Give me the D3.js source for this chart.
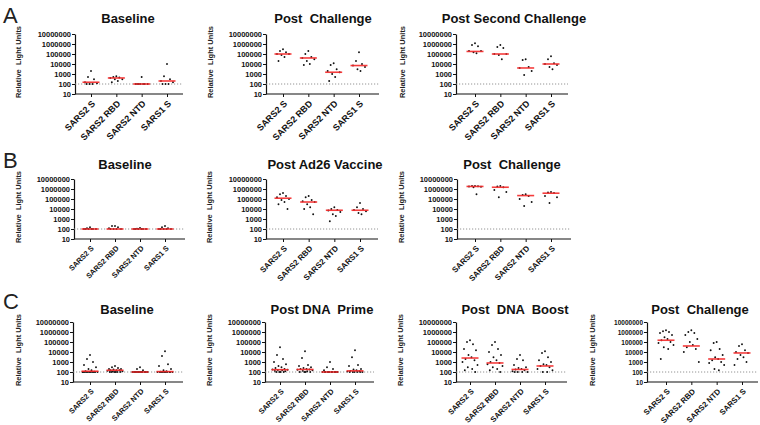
<!DOCTYPE html>
<html>
<head>
<meta charset="utf-8">
<script src="https://cdn.jsdelivr.net/npm/d3@7"></script>
<style>
  html, body { margin: 0; padding: 0; background: #fff; }
  svg { display: block; }
  text { font-family: "Liberation Sans", Arial, sans-serif; }
</style>
</head>
<body>
<svg id="chart" width="760" height="425"></svg>
<script>
// ---------------- DATA ----------------
const categories = ["SARS2 S", "SARS2 RBD", "SARS2 NTD", "SARS1 S"];
const yTickValues = [10, 100, 1000, 10000, 100000, 1000000, 10000000];
const yTickLabels = ["10", "100", "1000", "10000", "100000", "1000000", "10000000"];
const limitOfDetection = 100;
const rowLetters = ["A", "B", "C"];

const titles = {
  a1: "Baseline", a2: "Post  Challenge", a3: "Post Second Challenge",
  b1: "Baseline", b2: "Post Ad26 Vaccine", b3: "Post  Challenge",
  c1: "Baseline", c2: "Post DNA  Prime", c3: "Post  DNA  Boost", c4: "Post  Challenge"
};
const yLabel = "Relative  Light Units";

// Row A
const a1Values = [
  [2000, 500, 300, 150, 120, 100, 100, 100],
  [600, 500, 450, 400, 300, 300, 200, 150],
  [500, 100, 100, 100, 100, 100, 100, 100],
  [10000, 600, 300, 200, 150, 100, 100, 100]
];
const a1Medians = [150, 400, 100, 200];

const a2Values = [
  [300000, 200000, 150000, 100000, 100000, 80000, 50000, 20000],
  [200000, 100000, 50000, 40000, 30000, 20000, 10000, 8000],
  [12000, 8000, 3000, 2000, 1500, 1000, 500, 200],
  [150000, 20000, 10000, 7000, 5000, 3000, 2000]
];
const a2Medians = [100000, 40000, 1500, 7000];

const a3Values = [
  [1200000, 800000, 600000, 200000, 200000, 150000, 120000],
  [800000, 500000, 400000, 100000, 100000, 80000, 30000],
  [30000, 25000, 5000, 4000, 2000, 800],
  [60000, 30000, 12000, 10000, 8000, 5000, 3000]
];
const a3Medians = [180000, 100000, 4000, 10000];

// Row B
const b1Values = [
  [150, 120, 100, 100, 100, 100, 100, 100],
  [200, 200, 150, 120, 100, 100, 100, 100],
  [130, 110, 100, 100, 100, 100, 100, 100],
  [200, 150, 120, 100, 100, 100, 100, 100]
];
const b1Medians = [100, 100, 100, 100];

const b2Values = [
  [400000, 300000, 200000, 150000, 100000, 80000, 50000, 30000, 10000],
  [200000, 150000, 80000, 60000, 50000, 30000, 15000, 10000, 3000],
  [15000, 10000, 8000, 7000, 5000, 3000, 2000, 600],
  [40000, 15000, 10000, 8000, 6000, 4000, 3000]
];
const b2Medians = [120000, 50000, 7500, 7500];

const b3Values = [
  [2000000, 2000000, 1900000, 1800000, 1700000, 1500000, 300000],
  [2000000, 1800000, 1500000, 800000, 500000, 150000],
  [300000, 250000, 200000, 100000, 50000, 20000],
  [500000, 450000, 400000, 200000, 150000, 40000]
];
const b3Medians = [1800000, 1500000, 220000, 380000];

// Row C
const c1Values = [
  [5000, 2000, 1000, 500, 300, 200, 150, 120, 110, 100, 100, 100, 100, 100, 100, 100, 100, 100, 100, 100],
  [400, 300, 250, 200, 200, 180, 150, 150, 150, 130, 120, 110, 100, 100, 100, 100, 100, 100],
  [300, 200, 150, 100, 100, 100, 100, 100, 100, 100, 100, 100, 100, 100, 100, 100, 100, 100],
  [12000, 4000, 600, 400, 200, 150, 120, 110, 100, 100, 100, 100, 100, 100, 100, 100, 100, 100]
];
const c1Medians = [120, 150, 100, 110];

const c2Values = [
  [30000, 5000, 2000, 1000, 600, 400, 300, 250, 200, 180, 170, 160, 150, 130, 120, 100, 100, 100, 100],
  [12000, 2500, 500, 400, 300, 250, 200, 200, 180, 170, 150, 130, 120, 100, 100, 100, 100],
  [1000, 300, 200, 150, 100, 100, 100, 100, 100, 100, 100, 100, 100, 100, 100, 100],
  [15000, 3000, 500, 400, 200, 180, 150, 130, 120, 110, 100, 100, 100, 100, 100, 100]
];
const c2Medians = [170, 180, 100, 130];

const c3Values = [
  [150000, 100000, 60000, 20000, 15000, 5000, 3000, 2000, 1500, 1000, 500, 300, 200, 150, 100],
  [100000, 50000, 20000, 10000, 5000, 3000, 1500, 1000, 800, 600, 400, 300, 200, 150, 100],
  [5000, 2000, 1500, 500, 300, 250, 200, 180, 150, 120, 100, 100, 100, 100],
  [12000, 8000, 3000, 1500, 1000, 600, 500, 400, 300, 200, 150, 100, 100]
];
const c3Medians = [2500, 800, 180, 400];

const c4Values = [
  [1500000, 1200000, 1000000, 800000, 500000, 300000, 200000, 150000, 100000, 80000, 50000, 30000, 20000, 2000],
  [1500000, 1000000, 800000, 500000, 200000, 100000, 50000, 30000, 20000, 10000, 1000],
  [100000, 80000, 20000, 15000, 5000, 3000, 2000, 1500, 1000, 800, 500, 200, 150],
  [60000, 40000, 15000, 10000, 8000, 5000, 3000, 2000, 1000, 500]
];
const c4Medians = [150000, 40000, 2000, 8000];

// ---------------- LAYOUT (positions/styles only) ----------------
const panels = [
  {t: titles.a1, v: a1Values, m: a1Medians, x0: 75, x1: 183, c0: 91, c3: 167, yTop: 34, yBot: 94, lx: 21, tx: 128, ty: 23, fTick: 7.5, fCat: 9},
  {t: titles.a2, v: a2Values, m: a2Medians, x0: 266, x1: 379, c0: 283, c3: 359, yTop: 34, yBot: 94, lx: 213, tx: 323, ty: 23, fTick: 7.5, fCat: 9},
  {t: titles.a3, v: a3Values, m: a3Medians, x0: 456, x1: 568, c0: 475, c3: 551, yTop: 34, yBot: 94, lx: 405, tx: 514, ty: 23, fTick: 7.5, fCat: 9},
  {t: titles.b1, v: b1Values, m: b1Medians, x0: 74, x1: 185, c0: 90, c3: 165, yTop: 179, yBot: 239, lx: 21, tx: 125, ty: 169, fTick: 7.5, fCat: 7.4},
  {t: titles.b2, v: b2Values, m: b2Medians, x0: 266, x1: 378, c0: 283, c3: 360, yTop: 179, yBot: 239, lx: 212, tx: 325, ty: 169, fTick: 7.5, fCat: 8},
  {t: titles.b3, v: b3Values, m: b3Medians, x0: 457, x1: 571, c0: 475, c3: 551, yTop: 179, yBot: 239, lx: 404, tx: 512, ty: 169, fTick: 7.5, fCat: 8},
  {t: titles.c1, v: c1Values, m: c1Medians, x0: 73, x1: 183, c0: 90, c3: 165, yTop: 322, yBot: 382, lx: 21, tx: 127, ty: 314, fTick: 7.5, fCat: 7.4},
  {t: titles.c2, v: c2Values, m: c2Medians, x0: 265, x1: 374, c0: 280, c3: 355, yTop: 322, yBot: 382, lx: 212, tx: 322, ty: 314, fTick: 7.5, fCat: 7.5},
  {t: titles.c3, v: c3Values, m: c3Medians, x0: 456, x1: 567, c0: 470, c3: 545, yTop: 322, yBot: 382, lx: 403, tx: 515, ty: 314, fTick: 7.5, fCat: 7.7},
  {t: titles.c4, v: c4Values, m: c4Medians, x0: 647, x1: 758, c0: 666, c3: 742, yTop: 322, yBot: 382, lx: 595, tx: 700, ty: 314, fTick: 6.5, fCat: 7.8}
];
const letterPos = [{x: 3, y: 23}, {x: 3, y: 168}, {x: 3, y: 309}];

// ---------------- DRAW ----------------
const svg = d3.select("#chart");

rowLetters.forEach((L, i) => {
  svg.append("text").attr("x", letterPos[i].x).attr("y", letterPos[i].y)
    .attr("font-size", 22).attr("fill", "#222").text(L);
});

const jitterPattern = [0, -3, 3, -6, 6, -1.5, 1.5, -4.5, 4.5, -7.5, 7.5, -2.2, 2.2, -5.2, 5.2, -0.7, 0.7, -3.7, 3.7, -6.7];

panels.forEach(p => {
  const g = svg.append("g");
  const y = d3.scaleLog().domain([10, 1e7]).range([p.yBot, p.yTop]);
  const x = d3.scalePoint().domain(categories).range([p.c0, p.c3]);

  // title
  g.append("text").attr("x", p.tx).attr("y", p.ty).attr("text-anchor", "middle")
    .attr("font-size", 13).attr("font-weight", "bold").attr("fill", "#111")
    .style("white-space", "pre").text(p.t);

  // y label
  g.append("text")
    .attr("transform", `translate(${p.lx},${(p.yTop + p.yBot) / 2 - 2}) rotate(-90)`)
    .attr("text-anchor", "middle").attr("font-size", 7.5).attr("font-weight", "bold")
    .attr("fill", "#222").style("white-space", "pre").text(yLabel);

  // y axis
  const ya = g.append("g").attr("transform", `translate(${p.x0},0)`)
    .call(d3.axisLeft(y).tickValues(yTickValues)
      .tickFormat((d, i) => yTickLabels[i]).tickSize(3).tickSizeOuter(0).tickPadding(1));
  ya.select(".domain").attr("stroke", "#111").attr("stroke-width", 1.2);
  ya.selectAll(".tick line").attr("stroke", "#111").attr("stroke-width", 1);
  ya.selectAll(".tick text").attr("font-size", p.fTick).attr("font-weight", "bold")
    .attr("fill", "#111").attr("font-family", "Liberation Sans, Arial, sans-serif");

  // x axis
  const xa = g.append("g").attr("transform", `translate(0,${p.yBot})`)
    .call(d3.axisBottom(x).tickSize(3).tickSizeOuter(0));
  xa.select(".domain").remove();
  xa.append("line").attr("x1", p.x0).attr("x2", p.x1).attr("y1", 0).attr("y2", 0)
    .attr("stroke", "#111").attr("stroke-width", 1.2);
  xa.selectAll(".tick line").attr("stroke", "#111");
  xa.selectAll(".tick text")
    .attr("font-size", p.fCat).attr("font-weight", "bold").attr("fill", "#111")
    .attr("font-family", "Liberation Sans, Arial, sans-serif")
    .attr("text-anchor", "end").attr("x", 0).attr("y", 0).attr("dy", "0.35em")
    .attr("transform", "translate(2,8) rotate(-45)");

  // dotted limit line
  g.append("line").attr("x1", p.x0).attr("x2", p.x1)
    .attr("y1", y(limitOfDetection)).attr("y2", y(limitOfDetection))
    .attr("stroke", "#888").attr("stroke-width", 0.9).attr("stroke-dasharray", "1.2,1.8");

  // points and median lines
  categories.forEach((c, ci) => {
    const vals = p.v[ci];
    g.append("g").selectAll("circle").data(vals).join("circle")
      .attr("cx", (d, i) => x(c) + jitterPattern[i % jitterPattern.length])
      .attr("cy", d => y(d))
      .attr("r", 0.95).attr("fill", "#111");
    g.append("line")
      .attr("x1", x(c) - 8.5).attr("x2", x(c) + 8.5)
      .attr("y1", y(p.m[ci])).attr("y2", y(p.m[ci]))
      .attr("stroke", "#f52828").attr("stroke-width", 1.6).attr("opacity", 0.9);
  });
});
</script>
</body>
</html>
